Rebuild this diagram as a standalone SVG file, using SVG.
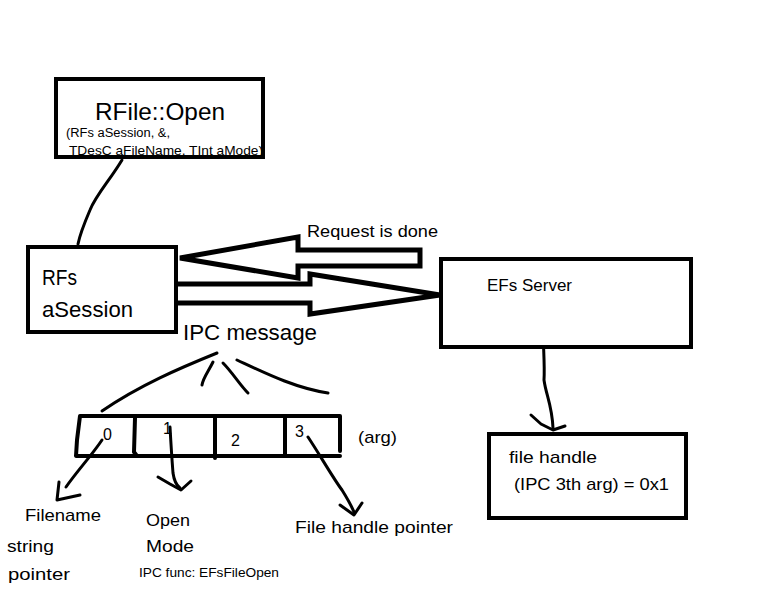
<svg xmlns="http://www.w3.org/2000/svg" width="772" height="590" viewBox="0 0 772 590">
<style>
text{font-family:"Liberation Sans",Arial,sans-serif;fill:#000}
.box{fill:#fff;stroke:#000;stroke-width:4}
.ln{fill:none;stroke:#000;stroke-width:3;stroke-linecap:round;stroke-linejoin:round}
.ar{fill:#fff;stroke:#000;stroke-width:5;stroke-linejoin:miter}
</style>
<rect width="772" height="590" fill="#fff"/>
<g id="connectors">
<path class="ln" d="M122,160 C110,180 96,195 90,210 C84,224 80,234 78,244"/>
<polygon class="ar" points="180,258 298,237 298,250 420,250 420,266 298,266 298,278"/>
<polyline class="ar" fill="none" points="177,284 310,284 310,274 440,295 310,314 310,303 177,303"/>
<path class="ln" d="M543,325 C543,345 545,365 544,380 C546,395 552,405 553,428"/>
<path class="ln" d="M531,415 L541,424 L553,430 L565,426"/>
<path class="ln" d="M217,353 C180,368 140,385 102,411"/>
<path class="ln" d="M213,362 C208,372 203,378 202,385"/>
<path class="ln" d="M223,363 C232,372 240,385 248,393"/>
<path class="ln" d="M237,360 C265,373 295,388 328,393"/>
<path class="ln" d="M102,440 C92,455 78,470 66,487"/>
<path class="ln" d="M59,482 L57,500 L80,495"/>
<path class="ln" d="M170,427 C171,445 172,460 173,473 C174,480 176,485 180,488"/>
<path class="ln" d="M158,477 L170,484 L181,490 L191,481"/>
<path class="ln" d="M308,437 C320,455 333,478 342,490 C347,498 351,505 354,512"/>
<path class="ln" d="M340,505 L354,515 L362,503"/>
</g>
<g id="rfile-open">
<rect class="box" x="56" y="79" width="207" height="78"/>
<text x="95" y="120" font-size="24" textLength="130" lengthAdjust="spacingAndGlyphs">RFile::Open</text>
<text x="66" y="137" font-size="12" textLength="104" lengthAdjust="spacingAndGlyphs">(RFs aSession, &amp;,</text>
<text x="69" y="155" font-size="13" textLength="194" lengthAdjust="spacingAndGlyphs">TDesC aFileName, TInt aMode)</text>
</g>
<g id="rfs-session">
<rect class="box" x="28" y="247" width="148" height="85"/>
<text x="42" y="285" font-size="22" textLength="35" lengthAdjust="spacingAndGlyphs">RFs</text>
<text x="42" y="317" font-size="22" textLength="91" lengthAdjust="spacingAndGlyphs">aSession</text>
</g>
<g id="request-label">
<text x="307" y="237" font-size="17" textLength="131" lengthAdjust="spacingAndGlyphs">Request is done</text>
</g>
<g id="efs-server">
<rect class="box" x="441" y="259" width="250" height="88"/>
<text x="487" y="291" font-size="17" textLength="85" lengthAdjust="spacingAndGlyphs">EFs Server</text>
</g>
<g id="file-handle">
<rect class="box" x="489" y="434" width="197" height="84"/>
<text x="509" y="463" font-size="17" textLength="88" lengthAdjust="spacingAndGlyphs">file handle</text>
<text x="514" y="490" font-size="17" textLength="155" lengthAdjust="spacingAndGlyphs">(IPC 3th arg) = 0x1</text>
</g>
<g id="ipc-message">
<text x="183" y="340" font-size="22" textLength="134" lengthAdjust="spacingAndGlyphs">IPC message</text>
</g>
<g id="args">
<path class="ln" style="stroke-width:4" d="M80,416 L340,416 L340,451 M80,416 L77,440 L76,456 L340,456 M135,418 L134,452 L137,456 M215,416 L215,458 M285,416 L285,456"/>
<text x="103" y="440" font-size="16">0</text>
<text x="163" y="434" font-size="16">1</text>
<text x="231" y="446" font-size="16">2</text>
<text x="295" y="437" font-size="16">3</text>
<text x="358" y="443" font-size="17" textLength="39" lengthAdjust="spacingAndGlyphs">(arg)</text>
</g>
<g id="labels">
<text x="25" y="521" font-size="17" textLength="76" lengthAdjust="spacingAndGlyphs">Filename</text>
<text x="7" y="552" font-size="17" textLength="47" lengthAdjust="spacingAndGlyphs">string</text>
<text x="8" y="580" font-size="17" textLength="62" lengthAdjust="spacingAndGlyphs">pointer</text>
<text x="146" y="526" font-size="17" textLength="44" lengthAdjust="spacingAndGlyphs">Open</text>
<text x="146" y="552" font-size="17" textLength="48" lengthAdjust="spacingAndGlyphs">Mode</text>
<text x="139" y="577" font-size="13" textLength="140" lengthAdjust="spacingAndGlyphs">IPC func: EFsFileOpen</text>
<text x="295" y="533" font-size="17" textLength="158" lengthAdjust="spacingAndGlyphs">File handle pointer</text>
</g>
</svg>
